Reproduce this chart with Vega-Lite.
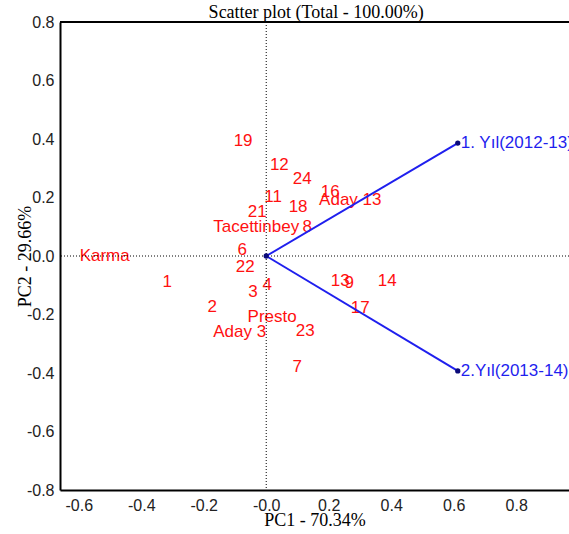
{
  "$schema": "https://vega.github.io/schema/vega-lite/v6.json",
  "width": 509,
  "height": 468,
  "autosize": "none",
  "padding": {"left": 60, "top": 22, "right": 0, "bottom": 44},
  "background": "white",
  "config": {"view": {"stroke": null}},
  "data": {"name": "scores"},
  "datasets": {
    "scores": [
      {"x": -0.074, "y": 0.393, "label": "19"},
      {"x": 0.042, "y": 0.311, "label": "12"},
      {"x": 0.115, "y": 0.263, "label": "24"},
      {"x": 0.205, "y": 0.219, "label": "16"},
      {"x": 0.269, "y": 0.191, "label": "Aday 13"},
      {"x": 0.022, "y": 0.202, "label": "11"},
      {"x": 0.102, "y": 0.168, "label": "18"},
      {"x": -0.029, "y": 0.150, "label": "21"},
      {"x": -0.032, "y": 0.099, "label": "Tacettinbey"},
      {"x": 0.131, "y": 0.099, "label": "8"},
      {"x": -0.077, "y": 0.021, "label": "6"},
      {"x": -0.067, "y": -0.038, "label": "22"},
      {"x": -0.517, "y": 0.0, "label": "Karma"},
      {"x": -0.317, "y": -0.089, "label": "1"},
      {"x": 0.003, "y": -0.099, "label": "4"},
      {"x": -0.042, "y": -0.123, "label": "3"},
      {"x": -0.173, "y": -0.174, "label": "2"},
      {"x": 0.019, "y": -0.209, "label": "Presto"},
      {"x": -0.085, "y": -0.260, "label": "Aday 3"},
      {"x": 0.125, "y": -0.256, "label": "23"},
      {"x": 0.099, "y": -0.379, "label": "7"},
      {"x": 0.237, "y": -0.085, "label": "13"},
      {"x": 0.266, "y": -0.092, "label": "9"},
      {"x": 0.387, "y": -0.085, "label": "14"},
      {"x": 0.301, "y": -0.178, "label": "17"}
    ],
    "loadings": [
      {"x": 0.613, "y": 0.386, "label": "1. Yıl(2012-13)"},
      {"x": 0.613, "y": -0.393, "label": "2.Yıl(2013-14)"}
    ],
    "dots": [
      {"x": 0, "y": 0},
      {"x": 0.613, "y": 0.386},
      {"x": 0.613, "y": -0.393}
    ],
    "guides": [
      {"x": 0, "y": 0, "ytop": 0.8, "xmid": 0.16, "heading": "Scatter plot (Total - 100.00%)"}
    ]
  },
  "layer": [
    {
      "mark": {"type": "text", "color": "#ff1010", "font": "Liberation Sans", "fontSize": 17, "align": "center", "baseline": "middle"},
      "encoding": {
        "x": {
          "field": "x",
          "type": "quantitative",
          "scale": {"domain": [-0.66, 0.969], "nice": false, "zero": false},
          "axis": {
            "title": "PC1 - 70.34%",
            "values": [-0.6, -0.4, -0.2, 0, 0.2, 0.4, 0.6, 0.8],
            "labelExpr": "datum.value == 0 ? '-0.0' : (datum.value < 0 ? '-' + format(-datum.value, '.1f') : format(datum.value, '.1f'))",
            "grid": false,
            "ticks": false,
            "tickSize": 0,
            "domainColor": "black",
            "domainWidth": 2,
            "labelFont": "Liberation Sans",
            "labelFontSize": 16,
            "labelColor": "#222",
            "labelPadding": 7,
            "labelFlush": false,
            "labelOverlap": false,
            "titleFont": "Liberation Serif",
            "titleFontSize": 18,
            "titleFontWeight": "normal",
            "titleColor": "black",
            "titleBaseline": "alphabetic",
            "titleY": 35
          }
        },
        "y": {
          "field": "y",
          "type": "quantitative",
          "scale": {"domain": [-0.8, 0.8], "nice": false, "zero": false},
          "axis": {
            "title": "PC2 - 29.66%",
            "values": [-0.8, -0.6, -0.4, -0.2, 0, 0.2, 0.4, 0.6, 0.8],
            "labelExpr": "datum.value < 0 ? '-' + format(-datum.value, '.1f') : format(datum.value, '.1f')",
            "grid": false,
            "ticks": false,
            "tickSize": 0,
            "domainColor": "black",
            "domainWidth": 2,
            "labelFont": "Liberation Sans",
            "labelFontSize": 16,
            "labelColor": "#222",
            "labelPadding": 6,
            "labelFlush": false,
            "labelOverlap": false,
            "titleFont": "Liberation Serif",
            "titleFontSize": 18,
            "titleFontWeight": "normal",
            "titleColor": "black",
            "titleAngle": 270,
            "titleAlign": "center",
            "titleBaseline": "alphabetic",
            "titleX": -30,
            "titleY": 234
          }
        },
        "text": {"field": "label"}
      }
    },
    {
      "data": {"name": "guides"},
      "mark": {"type": "text", "color": "black", "font": "Liberation Serif", "fontSize": 18, "align": "center", "baseline": "alphabetic", "dy": -4},
      "encoding": {
        "x": {"field": "xmid", "type": "quantitative", "scale": {"domain": [-0.66, 0.969], "nice": false, "zero": false}},
        "y": {"field": "ytop", "type": "quantitative", "scale": {"domain": [-0.8, 0.8], "nice": false, "zero": false}},
        "text": {"field": "heading"}
      }
    },
    {
      "data": {"name": "guides"},
      "mark": {"type": "rule", "color": "black", "strokeDash": [1, 2], "strokeWidth": 1},
      "encoding": {
        "x": {"field": "x", "type": "quantitative", "scale": {"domain": [-0.66, 0.969], "nice": false, "zero": false}}
      }
    },
    {
      "data": {"name": "guides"},
      "mark": {"type": "rule", "color": "black", "strokeDash": [1, 2], "strokeWidth": 1},
      "encoding": {
        "y": {"field": "y", "type": "quantitative", "scale": {"domain": [-0.8, 0.8], "nice": false, "zero": false}}
      }
    },
    {
      "data": {"name": "guides"},
      "mark": {"type": "rule", "color": "black", "strokeWidth": 2},
      "encoding": {
        "y": {"field": "ytop", "type": "quantitative", "scale": {"domain": [-0.8, 0.8], "nice": false, "zero": false}}
      }
    },
    {
      "data": {"name": "loadings"},
      "mark": {"type": "rule", "color": "#1f1fee", "strokeWidth": 2},
      "encoding": {
        "x": {"field": "x", "type": "quantitative", "scale": {"domain": [-0.66, 0.969], "nice": false, "zero": false}},
        "y": {"field": "y", "type": "quantitative", "scale": {"domain": [-0.8, 0.8], "nice": false, "zero": false}},
        "x2": {"datum": 0},
        "y2": {"datum": 0}
      }
    },
    {
      "data": {"name": "dots"},
      "mark": {"type": "point", "filled": true, "color": "#0a0a7a", "opacity": 1, "size": 28},
      "encoding": {
        "x": {"field": "x", "type": "quantitative", "scale": {"domain": [-0.66, 0.969], "nice": false, "zero": false}},
        "y": {"field": "y", "type": "quantitative", "scale": {"domain": [-0.8, 0.8], "nice": false, "zero": false}}
      }
    },
    {
      "data": {"name": "loadings"},
      "mark": {"type": "text", "color": "#1f1fee", "font": "Liberation Sans", "fontSize": 17, "align": "left", "baseline": "middle", "dx": 3},
      "encoding": {
        "x": {"field": "x", "type": "quantitative", "scale": {"domain": [-0.66, 0.969], "nice": false, "zero": false}},
        "y": {"field": "y", "type": "quantitative", "scale": {"domain": [-0.8, 0.8], "nice": false, "zero": false}},
        "text": {"field": "label"}
      }
    }
  ]
}
